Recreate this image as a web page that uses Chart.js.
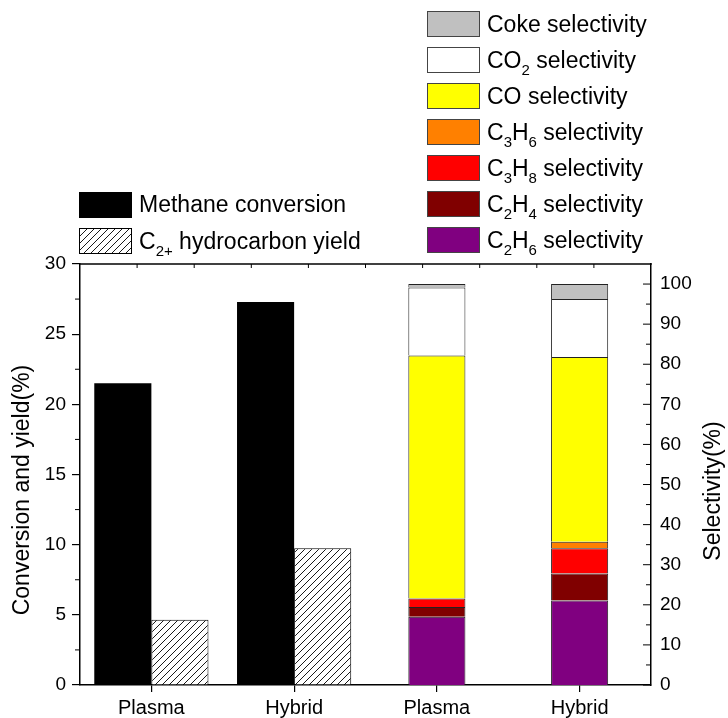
<!DOCTYPE html>
<html>
<head>
<meta charset="utf-8">
<script src="https://cdn.jsdelivr.net/npm/chart.js@4.4.0/dist/chart.umd.min.js"></script>
<style>
  body { margin: 0; background: #fff; }
  #wrap { position: relative; width: 728px; height: 718px; font-family: 'Liberation Sans', Arial, sans-serif; }
  #chart { position: absolute; left: 0; top: 0; }
  .item { position: absolute; height: 26px; display: flex; align-items: center; white-space: nowrap; font-size: 23px; color: #000; }
  .box { width: 53px; height: 26px; box-sizing: border-box; border: 1px solid #444; margin-right: 7px; flex: none; }
  .item sub { font-size: 15px; vertical-align: -7px; line-height: 0; }
</style>
</head>
<body>
<div id="wrap">
  <canvas id="chart" width="728" height="718"></canvas>
  <div id="legends"></div>
</div>
<script>
// Données
const categories = ['Plasma', 'Hybrid', 'Plasma', 'Hybrid'];
const methaneConversion = [21.5, 27.3, null, null];
const c2Yield = [4.65, 9.75, null, null];

// selectivites, du bas vers le haut de la pile
const selNames = ['C2H6 selectivity', 'C2H4 selectivity', 'C3H8 selectivity', 'C3H6 selectivity', 'CO selectivity', 'CO2 selectivity', 'Coke selectivity'];
const selLegend = [
    'C<sub>2</sub>H<sub>6</sub> selectivity',
    'C<sub>2</sub>H<sub>4</sub> selectivity',
    'C<sub>3</sub>H<sub>8</sub> selectivity',
    'C<sub>3</sub>H<sub>6</sub> selectivity',
    'CO selectivity',
    'CO<sub>2</sub> selectivity',
    'Coke selectivity'
];
const selColors = ['#800080', '#800000', '#ff0000', '#ff8000', '#ffff00', '#ffffff', '#c0c0c0'];
const selPlasma = [17.05, 2.4, 2.15, 0, 60.55, 17.0, 0.85];
const selHybrid = [21.05, 6.75, 6.3, 1.65, 46.05, 14.45, 3.75];

const leftTicks = [0, 5, 10, 15, 20, 25, 30];
const rightTicks = [0, 10, 20, 30, 40, 50, 60, 70, 80, 90, 100];

const FONT = "'Liberation Sans', Arial, sans-serif";

// Motif hachuré ////
function makeHatchTile() {
    const c = document.createElement('canvas');
    c.width = 7;
    c.height = 7;
    const g = c.getContext('2d');
    g.fillStyle = '#fff';
    g.fillRect(0, 0, 7, 7);
    g.strokeStyle = '#000';
    g.lineWidth = 0.9;
    g.beginPath();
    g.moveTo(-1, 8); g.lineTo(8, -1);
    g.moveTo(-1, 1); g.lineTo(1, -1);
    g.moveTo(6, 8); g.lineTo(8, 6);
    g.stroke();
    return c;
}
const hatchTile = makeHatchTile();
const hatch = document.getElementById('chart').getContext('2d').createPattern(hatchTile, 'repeat');

const datasets = [
    {
        label: 'Methane conversion',
        data: methaneConversion,
        backgroundColor: '#000',
        borderWidth: 0,
        stack: 'conv',
        yAxisID: 'y'
    },
    {
        label: 'C2+ hydrocarbon yield',
        data: c2Yield,
        backgroundColor: hatch,
        borderColor: '#000',
        borderWidth: 1,
        stack: 'yield',
        yAxisID: 'y'
    }
].concat(selNames.map((name, i) => ({
    label: name,
    data: [null, null, selPlasma[i], selHybrid[i]],
    backgroundColor: selColors[i],
    borderColor: '#222',
    borderWidth: 1,
    stack: 'sel',
    yAxisID: 'y2',
    barPercentage: 0.5
})));

datasets.forEach(d => {
    d.skipNull = true;
    d.categoryPercentage = 0.8;
    if (d.barPercentage === undefined) d.barPercentage = 1;
});

// Petites graduations, cadre et titres d'axes
const framePlugin = {
    id: 'frame',
    afterDraw(chart) {
        const { ctx, chartArea: a, scales } = chart;
        const line = (x1, y1, x2, y2) => {
            ctx.beginPath();
            ctx.moveTo(x1, y1);
            ctx.lineTo(x2, y2);
            ctx.stroke();
        };
        ctx.save();
        ctx.strokeStyle = '#000';
        ctx.lineWidth = 1.5;
        line(a.left, a.top, a.right + 0.75, a.top);

        ctx.lineWidth = 1;
        for (let i = 1; i < 10; i++) {
            const x = a.left + (a.right - a.left) * i / 10;
            line(x, a.top, x, a.top + 4);
        }
        for (let i = 0; i < leftTicks.length - 1; i++) {
            const y = scales.y.getPixelForValue((leftTicks[i] + leftTicks[i + 1]) / 2);
            line(a.left - 5, y, a.left, y);
        }
        rightTicks.forEach((v, i) => {
            const y = scales.y2.getPixelForValue(v);
            line(a.right - 8, y, a.right, y);
            if (i < rightTicks.length - 1) {
                const ym = scales.y2.getPixelForValue((v + rightTicks[i + 1]) / 2);
                line(a.right - 5, ym, a.right, ym);
            }
        });

        ctx.fillStyle = '#000';
        ctx.font = '23px ' + FONT;
        ctx.textAlign = 'center';
        ctx.textBaseline = 'middle';
        ctx.save();
        ctx.translate(23, 490);
        ctx.rotate(-Math.PI / 2);
        ctx.fillText('Conversion and yield(%)', 0, 0);
        ctx.restore();
        ctx.save();
        ctx.translate(714, 491);
        ctx.rotate(-Math.PI / 2);
        ctx.fillText('Selectivity(%)', 0, 0);
        ctx.restore();
        ctx.restore();
    }
};

new Chart(document.getElementById('chart'), {
    type: 'bar',
    data: {
        labels: categories,
        datasets: datasets
    },
    options: {
        responsive: false,
        animation: false,
        layout: { padding: { top: 264, left: 0, right: 0, bottom: 0 } },
        plugins: {
            legend: { display: false },
            tooltip: { enabled: false }
        },
        scales: {
            x: {
                type: 'category',
                offset: true,
                grid: { display: true, offset: false, drawOnChartArea: false, drawTicks: true, tickLength: 7, color: '#000', lineWidth: 1.2 },
                border: { display: true, color: '#000', width: 1.5 },
                ticks: { color: '#000', font: { size: 20, family: FONT }, padding: 4, maxRotation: 0 },
                afterFit: s => { s.height = 33; }
            },
            y: {
                position: 'left',
                min: 0,
                max: 30,
                afterBuildTicks: s => { s.ticks = leftTicks.map(v => ({ value: v })); },
                grid: { display: true, drawOnChartArea: false, drawTicks: true, tickLength: 8, color: '#000', lineWidth: 1.2 },
                border: { display: true, color: '#000', width: 1.5 },
                ticks: { color: '#000', font: { size: 19, family: FONT }, padding: 6 },
                afterFit: s => { s.width = 80; }
            },
            y2: {
                position: 'right',
                min: 0,
                max: 105,
                afterBuildTicks: s => { s.ticks = rightTicks.map(v => ({ value: v })); },
                grid: { display: false, drawTicks: false, tickLength: 0 },
                border: { display: true, color: '#000', width: 1.5 },
                ticks: { color: '#000', font: { size: 19, family: FONT }, padding: 9 },
                afterFit: s => { s.width = 77; }
            }
        }
    },
    plugins: [framePlugin]
});

// Légendes HTML (indices en <sub>)
function addItem(x, yCenter, swatchCss, html) {
    const item = document.createElement('div');
    item.className = 'item';
    item.style.left = x + 'px';
    item.style.top = (yCenter - 13) + 'px';
    const box = document.createElement('div');
    box.className = 'box';
    Object.assign(box.style, swatchCss);
    const label = document.createElement('span');
    label.innerHTML = html;
    item.appendChild(box);
    item.appendChild(label);
    document.getElementById('legends').appendChild(item);
}

addItem(79, 204.5, { background: '#000', borderColor: '#000' }, 'Methane conversion');
addItem(79, 241, { backgroundImage: 'url(' + hatchTile.toDataURL() + ')', borderColor: '#000' }, 'C<sub>2+</sub> hydrocarbon yield');

for (let i = selNames.length - 1, row = 0; i >= 0; i--, row++) {
    addItem(427, 24 + row * 36, { background: selColors[i] }, selLegend[i]);
}
</script>
</body>
</html>
